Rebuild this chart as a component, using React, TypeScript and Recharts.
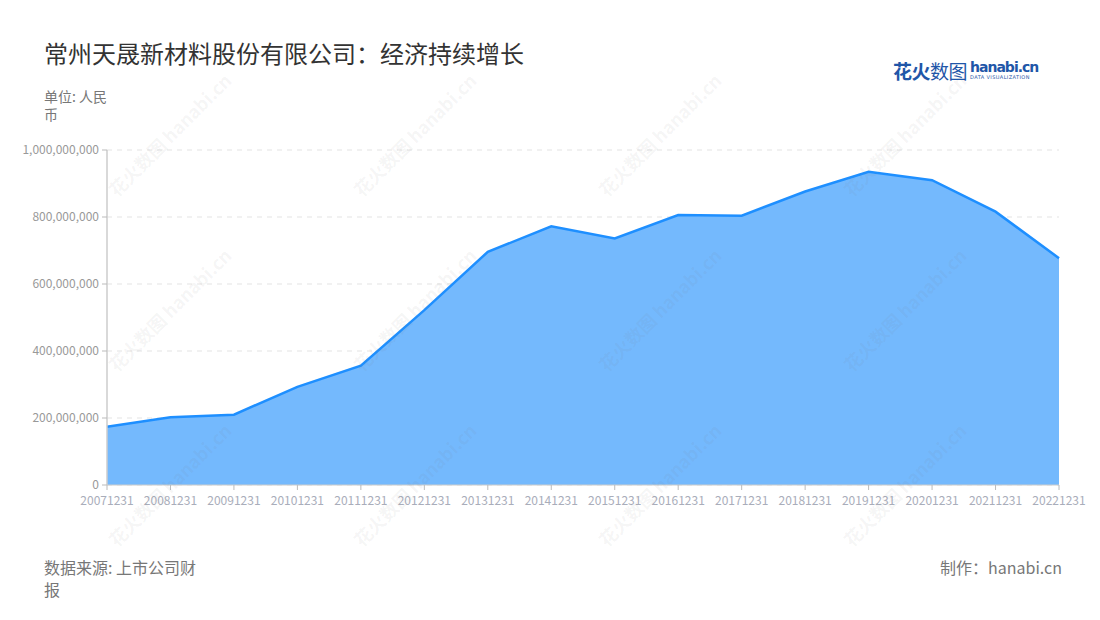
import React from "react";
import {
  AreaChart,
  Area,
  CartesianGrid,
  XAxis,
  YAxis,
} from "recharts";

// year-end dates
const periods = [
  "20071231", "20081231", "20091231", "20101231", "20111231", "20121231",
  "20131231", "20141231", "20151231", "20161231", "20171231", "20181231",
  "20191231", "20201231", "20211231", "20221231",
];

// revenue, RMB
const revenue = [
  174000000, 202000000, 210000000, 293000000, 356000000, 522000000,
  696000000, 772000000, 736000000, 806000000, 804000000, 876000000,
  935000000, 910000000, 816000000, 677000000,
];

const yTicks = [0, 200000000, 400000000, 600000000, 800000000, 1000000000];

const watermarkCols = [175, 420, 665, 910];
const watermarkRows = [140, 315, 490];

const FONT = '"Noto Sans CJK SC", "Noto Sans", sans-serif';

const data = periods.map((p, i) => ({ period: p, value: revenue[i] }));

const fmt = (v: number) => v.toLocaleString("en-US");

const Watermarks = () => (
  <svg
    width={1100}
    height={620}
    style={{ position: "absolute", left: 0, top: 0, pointerEvents: "none" }}
  >
    {watermarkRows.map((y) =>
      watermarkCols.map((x) => (
        <g key={`${x}-${y}`} transform={`translate(${x},${y}) rotate(-45)`}>
          <text
            x={0}
            y={0}
            textAnchor="middle"
            fontFamily={FONT}
            fontSize={18}
            fontWeight={700}
            fill="rgba(120,120,120,0.07)"
          >
            花火数图 hanabi.cn
          </text>
        </g>
      ))
    )}
  </svg>
);

const App = () => {
  return (
    <div
      style={{
        position: "fixed",
        left: 0,
        top: 0,
        width: 1100,
        height: 620,
        background: "#fff",
        fontFamily: FONT,
        overflow: "hidden",
      }}
    >
      <AreaChart
        width={1100}
        height={620}
        data={data}
        margin={{ top: 150, right: 41, bottom: 105, left: 0 }}
        style={{ position: "absolute", left: 0, top: 0 }}
      >
        <CartesianGrid
          vertical={false}
          stroke="#e3e3e3"
          strokeDasharray="5 5"
        />
        <XAxis
          dataKey="period"
          interval={0}
          height={30}
          tick={{ fontSize: 12, fill: "#a9adba", fontFamily: FONT }}
          tickLine={{ stroke: "#bbb" }}
          axisLine={{ stroke: "#ccc" }}
          tickSize={5}
          tickMargin={6}
        />
        <YAxis
          width={107}
          domain={[0, 1000000000]}
          ticks={yTicks}
          tickFormatter={fmt}
          tick={{ fontSize: 12, fill: "#999", fontFamily: FONT }}
          tickLine={{ stroke: "#bbb" }}
          axisLine={{ stroke: "#ccc", strokeWidth: 1.5 }}
          tickSize={5}
          tickMargin={3}
        />
        <Area
          type="linear"
          dataKey="value"
          stroke="#1e8fff"
          strokeWidth={2.5}
          fill="#74b9fd"
          fillOpacity={1}
          isAnimationActive={false}
          dot={false}
          activeDot={false}
        />
      </AreaChart>

      <Watermarks />

      <div
        style={{
          position: "absolute",
          left: 44,
          top: 38,
          fontSize: 24,
          color: "#333",
          lineHeight: "30px",
          whiteSpace: "nowrap",
        }}
      >
        常州天晟新材料股份有限公司：经济持续增长
      </div>

      <div
        style={{
          position: "absolute",
          left: 44,
          top: 87,
          fontSize: 14,
          color: "#777",
          lineHeight: "18px",
        }}
      >
        单位: 人民
        <br />币
      </div>

      <div
        style={{
          position: "absolute",
          left: 893,
          top: 59,
          display: "flex",
          alignItems: "flex-end",
          whiteSpace: "nowrap",
        }}
      >
        <span
          style={{
            fontSize: 19,
            color: "#1f56a8",
            lineHeight: "24px",
            letterSpacing: -0.5,
          }}
        >
          <b>花火</b>数图
        </span>
        <span
          style={{
            display: "flex",
            flexDirection: "column",
            marginLeft: 3,
            marginBottom: 3,
          }}
        >
          <span
            style={{
              fontSize: 14,
              fontWeight: 700,
              color: "#1f56a8",
              lineHeight: "14px",
              fontFamily: '"DejaVu Sans", sans-serif',
              letterSpacing: -1,
            }}
          >
            hanabi.cn
          </span>
          <span
            style={{
              fontSize: 5,
              color: "#1f56a8",
              lineHeight: "6px",
              letterSpacing: 0.4,
              fontFamily: '"DejaVu Sans", sans-serif',
            }}
          >
            DATA VISUALIZATION
          </span>
        </span>
      </div>

      <div
        style={{
          position: "absolute",
          left: 44,
          top: 556,
          fontSize: 16,
          color: "#777",
          lineHeight: "22px",
        }}
      >
        数据来源: 上市公司财
        <br />报
      </div>

      <div
        style={{
          position: "absolute",
          right: 38,
          top: 556,
          fontSize: 16,
          color: "#777",
          lineHeight: "22px",
          whiteSpace: "nowrap",
        }}
      >
        制作：hanabi.cn
      </div>
    </div>
  );
};

export default App;
